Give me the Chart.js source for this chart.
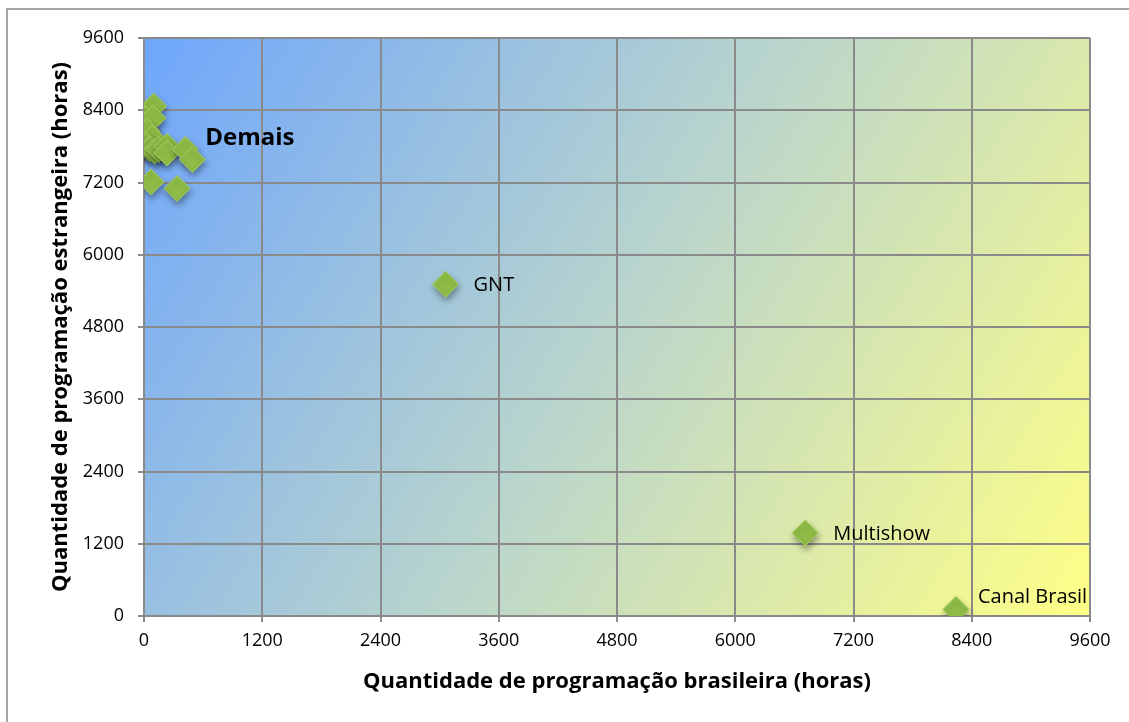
<!DOCTYPE html>
<html lang="pt">
<head>
  <meta charset="UTF-8">
  <title>Programação brasileira x estrangeira</title>
  <script src="https://cdn.jsdelivr.net/npm/chart.js"></script>
  <style>
    body { margin: 0; background: #ffffff; }
    #wrap {
      position: relative;
      width: 1129px;
      height: 722px;
    }
    #frame {
      position: absolute;
      left: 6px;
      top: 8px;
      width: 1140px;
      height: 730px;
      border: 2px solid #a6a6a6;
      box-sizing: border-box;
      pointer-events: none;
    }
  </style>
</head>
<body>
<div id="wrap">
  <div id="frame"></div>
  <canvas id="chart" width="1129" height="722"></canvas>
</div>

<script>
  // canais: horas de programação brasileira (x) e estrangeira (y)
  const channelNames = ['GNT', 'Multishow', 'Canal Brasil'];
  const brasileira = [3060, 6710, 8240];
  const estrangeira = [5510, 1380, 110];

  // grupo "Demais"
  const demaisBrasileira = [98, 14, 90, 31, 80, 14, 60, 110, 150, 234, 234, 420, 490, 72, 336];
  const demaisEstrangeira = [8470, 8260, 8270, 8050, 7940, 7830, 7760, 7720, 7750, 7800, 7690, 7750, 7580, 7210, 7100];
  const demaisLabelAt = [520, 7960];

  const tickValues = [0, 1200, 2400, 3600, 4800, 6000, 7200, 8400, 9600];
  const xTitle = 'Quantidade de programação brasileira (horas)';
  const yTitle = 'Quantidade de programação estrangeira (horas)';

  const points = [];
  demaisBrasileira.forEach((v, i) => points.push({ x: v, y: demaisEstrangeira[i] }));
  brasileira.forEach((v, i) => points.push({ x: v, y: estrangeira[i] }));

  const FONT = '"Open Sans", Lato, sans-serif';

  const bgPlugin = {
    id: 'bg',
    beforeDraw(chart) {
      const { ctx, chartArea: a } = chart;
      const g = ctx.createLinearGradient(a.left, a.top, a.right, a.bottom);
      g.addColorStop(0, '#6ea6fc');
      g.addColorStop(0.5, '#bad5cc');
      g.addColorStop(1, '#ffff86');
      ctx.save();
      ctx.fillStyle = g;
      ctx.fillRect(a.left, a.top, a.right - a.left, a.bottom - a.top);
      ctx.restore();
    },
    beforeDatasetsDraw(chart) {
      const ctx = chart.ctx;
      ctx.save();
      ctx.shadowColor = 'rgba(0,0,0,0.35)';
      ctx.shadowBlur = 6;
      ctx.shadowOffsetX = 1;
      ctx.shadowOffsetY = 4;
    },
    afterDatasetsDraw(chart) {
      const ctx = chart.ctx;
      ctx.restore();
      const xs = chart.scales.x, ys = chart.scales.y;
      ctx.save();
      ctx.fillStyle = '#000';
      ctx.textBaseline = 'middle';
      ctx.textAlign = 'left';
      ctx.font = '20px ' + FONT;
      const offs = [[28, 1], [28, 1], [22, -12]];
      channelNames.forEach((n, i) => {
        ctx.fillText(n, xs.getPixelForValue(brasileira[i]) + offs[i][0],
          ys.getPixelForValue(estrangeira[i]) + offs[i][1]);
      });
      ctx.font = 'bold 24px ' + FONT;
      ctx.fillText('Demais', xs.getPixelForValue(demaisLabelAt[0]) + 10, ys.getPixelForValue(demaisLabelAt[1]) + 1);
      ctx.restore();
    }
  };

  const axisCommon = {
    type: 'linear',
    min: 0,
    max: 9600,
    afterBuildTicks(scale) { scale.ticks = tickValues.map(v => ({ value: v })); },
    grid: {
      color: '#8a8a8a',
      lineWidth: 2,
      drawTicks: true,
      tickLength: 6,
      tickColor: '#8a8a8a'
    },
    border: { color: '#8a8a8a', width: 2 },
    ticks: {
      color: '#000',
      font: { family: FONT, size: 18 },
      callback: v => String(v)
    }
  };

  new Chart(document.getElementById('chart'), {
    type: 'scatter',
    data: {
      datasets: [{
        data: points,
        pointStyle: 'rectRot',
        pointRadius: 13,
        pointHoverRadius: 13,
        backgroundColor: '#8fbd47',
        borderColor: '#a8cf62',
        borderWidth: 1
      }]
    },
    options: {
      responsive: false,
      animation: false,
      layout: { padding: { left: 44, top: 38, right: 39, bottom: 23 } },
      plugins: { legend: { display: false }, tooltip: { enabled: false } },
      scales: {
        x: Object.assign({}, axisCommon, {
          afterFit(scale) { scale.height = 83; },
          ticks: Object.assign({}, axisCommon.ticks, { padding: 8 }),
          title: {
            display: true,
            text: xTitle,
            color: '#000',
            font: { family: FONT, size: 22, weight: 'bold' },
            padding: { top: 4, bottom: 4 }
          }
        }),
        y: Object.assign({}, axisCommon, {
          afterFit(scale) { scale.width = 100; },
          ticks: Object.assign({}, axisCommon.ticks, { padding: 14 }),
          title: {
            display: true,
            text: yTitle,
            color: '#000',
            font: { family: FONT, size: 22, weight: 'bold' },
            padding: { top: 4, bottom: 4 }
          }
        })
      }
    },
    plugins: [bgPlugin]
  });
</script>
</body>
</html>
